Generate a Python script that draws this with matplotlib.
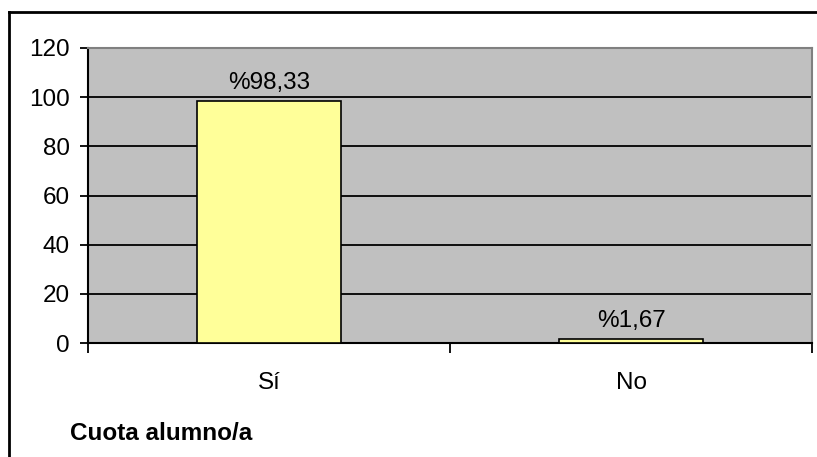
import matplotlib.pyplot as plt
from matplotlib.lines import Line2D

categories = ['Sí', 'No']
values = [98.33, 1.67]
labels = ['%98,33', '%1,67']
y_ticks = [0, 20, 40, 60, 80, 100, 120]

plt.rcParams['font.family'] = ['Liberation Sans', 'DejaVu Sans']

fig = plt.figure(figsize=(8.17, 4.57), dpi=100)
ax = fig.add_axes([88 / 817, 1 - 343 / 457, 724 / 817, 295 / 457])
ax.set_facecolor('#C0C0C0')

x = list(range(len(categories)))
bars = ax.bar(x, values, width=0.4, color='#FFFF99', edgecolor='black',
              linewidth=1.2, zorder=3)

for bar, lab in zip(bars, labels):
    ax.annotate(lab, (bar.get_x() + bar.get_width() / 2, bar.get_height()),
                xytext=(0, 5), textcoords='offset points',
                ha='center', va='bottom', fontsize=17.5)

ax.set_xlim(-0.5, len(categories) - 0.5)
ax.set_ylim(0, 120)
ax.set_yticks(y_ticks)
ax.yaxis.grid(True, color='black', linewidth=1.3, zorder=1)
ax.set_axisbelow(True)
ax.tick_params(axis='y', labelsize=17.5, length=6, width=1.3, direction='out',
               pad=7)

ax.set_xticks(x)
ax.set_xticklabels(categories, fontsize=17.5)
ax.set_xticks([-0.5, 0.5, 1.5], minor=True)
ax.tick_params(axis='x', which='major', length=0, pad=21)
ax.tick_params(axis='x', which='minor', length=7, width=1.3, direction='out')

ax.spines['left'].set_linewidth(1.5)
ax.spines['bottom'].set_linewidth(1.5)
ax.spines['top'].set_color('#808080')
ax.spines['right'].set_color('#808080')
ax.spines['top'].set_linewidth(1.5)
ax.spines['right'].set_linewidth(1.5)

fig.text(70 / 817, 1 - 433 / 457, 'Cuota alumno/a', fontsize=17.5,
         fontweight='bold', ha='left', va='center')

# outer chart frame (only left and top edges fall inside the picture)
fig.add_artist(Line2D([9 / 817, 9 / 817], [0, 1 - 12 / 457],
                      transform=fig.transFigure, color='black', linewidth=2))
fig.add_artist(Line2D([9 / 817, 1], [1 - 12 / 457, 1 - 12 / 457],
                      transform=fig.transFigure, color='black', linewidth=2))

plt.savefig('out.png', dpi=100)
